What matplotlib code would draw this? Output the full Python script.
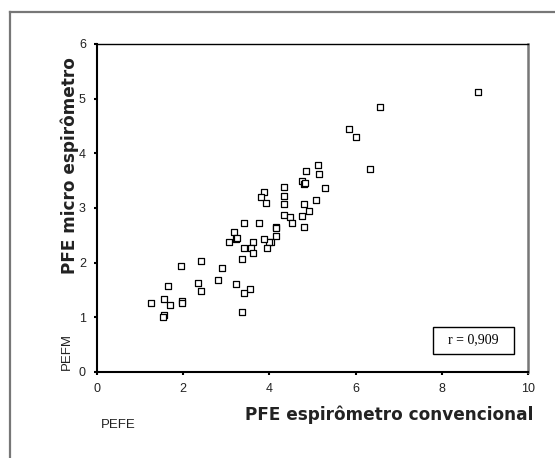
import matplotlib
matplotlib.use("Agg")
import matplotlib.pyplot as plt
from matplotlib.lines import Line2D
from matplotlib.patches import Rectangle

# PFE (L/s): conventional spirometer vs micro spirometer
pefe = [8.83, 6.56, 5.85, 6.00, 6.33, 5.13, 5.16, 4.86, 4.76, 4.80, 4.82, 5.28,
        4.35, 4.35, 4.35, 4.81, 5.09, 4.93, 4.35, 4.47, 4.53, 4.76, 4.81,
        3.87, 3.80, 3.93, 3.40, 3.77, 4.16, 4.16, 4.16, 4.04, 4.00, 3.87, 3.95,
        3.62, 3.57, 3.62, 3.40, 3.37, 3.19, 3.22, 3.24, 3.06, 2.90, 2.80,
        2.42, 2.34, 2.42, 1.94, 3.23, 3.55, 3.41, 3.37, 1.64, 1.56, 1.69,
        1.26, 1.98, 1.98, 1.56, 1.53]
pefm = [5.12, 4.85, 4.45, 4.29, 3.71, 3.79, 3.62, 3.67, 3.49, 3.43, 3.45, 3.36,
        3.38, 3.22, 3.08, 3.08, 3.14, 2.94, 2.87, 2.83, 2.73, 2.85, 2.66,
        3.30, 3.20, 3.09, 2.72, 2.72, 2.66, 2.64, 2.48, 2.38, 2.38, 2.43, 2.26,
        2.37, 2.26, 2.17, 2.26, 2.07, 2.57, 2.43, 2.45, 2.37, 1.90, 1.69,
        2.03, 1.63, 1.49, 1.93, 1.61, 1.52, 1.44, 1.10, 1.57, 1.33, 1.23,
        1.27, 1.30, 1.27, 1.04, 1.00]

x_ticks = [0, 2, 4, 6, 8, 10]
y_ticks = [0, 1, 2, 3, 4, 5, 6]
r_text = "r = 0,909"

W, H = 555, 458
fig = plt.figure(figsize=(W / 100, H / 100), dpi=100)


def fx(px):
    return px / W


def fy(py):
    return 1 - py / H


# outer grey frame (cut off at the right and bottom)
fig.add_artist(Line2D([fx(10), fx(10)], [fy(12), 0], color="#777777", lw=1.6))
fig.add_artist(Line2D([fx(10), 1], [fy(12), fy(12)], color="#777777", lw=1.6))

ax = fig.add_axes([fx(97), fy(372), fx(528) - fx(97), fy(44) - fy(372)])
ax.scatter(pefe, pefm, marker="s", s=22, facecolors="white",
           edgecolors="black", linewidths=0.9, zorder=3)

ax.set_xlim(0, 10)
ax.set_ylim(0, 6)
ax.set_xticks(x_ticks)
ax.set_yticks(y_ticks)
ax.tick_params(direction="out", length=2, width=1.5, pad=6,
               labelsize=9, labelcolor="#222222")
for lab in ax.get_xticklabels() + ax.get_yticklabels():
    lab.set_family("Liberation Sans")

ax.spines["left"].set_linewidth(1.5)
ax.spines["bottom"].set_linewidth(1.5)
ax.spines["top"].set_linewidth(1.0)
ax.spines["right"].set_linewidth(1.8)
ax.spines["right"].set_color("#777777")

# correlation box
ax.add_patch(Rectangle((0.78, 0.055), 0.188, 0.082, transform=ax.transAxes,
                       facecolor="white", edgecolor="black", linewidth=1.0,
                       zorder=4))
ax.text(0.874, 0.098, r_text, transform=ax.transAxes, ha="center",
        va="center", family="Liberation Serif", fontsize=10, zorder=5)

fig.text(fx(70), fy(166), "PFE micro espirômetro", rotation=90,
         ha="center", va="center", fontsize=12.2, fontweight="bold",
         family="DejaVu Sans", color="#222222")
fig.text(fx(533), fy(415), "PFE espirômetro convencional",
         ha="right", va="center", fontsize=12.2, fontweight="bold",
         family="DejaVu Sans", color="#222222")
fig.text(fx(67), fy(352), "PEFM", rotation=90, ha="center", va="center",
         fontsize=9.5, family="Liberation Sans", color="#222222")
fig.text(fx(101), fy(425), "PEFE", ha="left", va="center",
         fontsize=9.5, family="Liberation Sans", color="#222222")

fig.savefig("out.png", dpi=100)
